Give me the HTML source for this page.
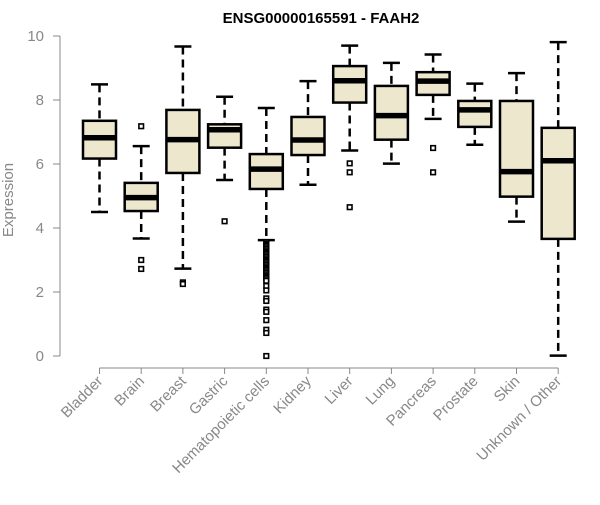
<!DOCTYPE html>
<html><head><meta charset="utf-8"><style>
body{margin:0;background:#fff}
svg{font-family:"Liberation Sans",sans-serif}
</style></head><body>
<svg id="chart" width="600" height="500">
<text x="321" y="23" text-anchor="middle" font-weight="bold" font-size="15">ENSG00000165591 - FAAH2</text>
<text transform="translate(13,200) rotate(-90)" text-anchor="middle" font-size="15" fill="#888">Expression</text>
<g id="axes"></g><g id="boxes"></g>
</svg>
<script>
const categories=["Bladder","Brain","Breast","Gastric","Hematopoietic cells","Kidney","Liver","Lung","Pancreas","Prostate","Skin","Unknown / Other"];
const whiskerLow=[4.5,3.67,2.73,5.5,3.62,5.35,6.42,6.01,7.41,6.6,4.2,0.01];
const q1=[6.17,4.53,5.72,6.51,5.22,6.28,7.92,6.76,8.16,7.16,4.98,3.66];
const medians=[6.82,4.95,6.76,7.07,5.84,6.75,8.6,7.51,8.59,7.69,5.76,6.1];
const q3=[7.35,5.41,7.69,7.24,6.31,7.47,9.06,8.44,8.87,7.97,7.97,7.13];
const whiskerHigh=[8.49,6.56,9.67,8.1,7.75,8.59,9.7,9.16,9.42,8.51,8.84,9.81];
const outliers=[[],[7.18,3.0,2.72],[2.3,2.25],[4.21],
[3.55,3.5,3.45,3.4,3.35,3.3,3.25,3.2,3.15,3.1,3.05,3.0,2.95,2.9,2.85,2.8,2.75,2.7,2.65,2.6,2.55,2.5,2.45,2.4,2.35,2.19,2.05,1.8,1.72,1.45,1.38,1.12,0.82,0.72,0],
[],[6.02,5.74,4.65],[],[6.5,5.74],[],[],[]];
const yTicks=[0,2,4,6,8,10];
const NS="http://www.w3.org/2000/svg";
const y=v=>356-v*32;
const x=i=>99.5+i*41.7;
function mk(p,t,a){const e=document.createElementNS(NS,t);for(const k in a)e.setAttribute(k,a[k]);p.appendChild(e);return e;}
const ax=document.getElementById('axes'),bx=document.getElementById('boxes');
const yl=mk(ax,'line',{x1:60,x2:60,y1:y(10),y2:y(0),stroke:'#888'});


yTicks.forEach(t=>{
 const tk=mk(ax,'line',{x1:53,x2:60,y1:y(t),y2:y(t),stroke:'#888'});
 
 
 const tl=mk(ax,'text',{x:44,y:y(t)+5,'text-anchor':'end','font-size':15,fill:'#888'});
 tl.textContent=t;
 
 
});
const xl=mk(ax,'line',{x1:x(0),x2:x(categories.length-1),y1:368,y2:368,stroke:'#888'});


categories.forEach((c,i)=>{
 const cx=x(i),w=16.5;
 const tk=mk(ax,'line',{x1:cx,x2:cx,y1:368,y2:374,stroke:'#888'});
 
 
 const tl=mk(ax,'text',{transform:`translate(${cx+4},${382}) rotate(-45)`,'text-anchor':'end','font-size':15,fill:'#888'});
 tl.textContent=c;
 
 
 const g=mk(bx,'g',{});
 
 
 mk(g,'line',{x1:cx,x2:cx,y1:y(whiskerHigh[i]),y2:y(q3[i]),stroke:'#000','stroke-width':2.5,'stroke-dasharray':'8,5'});
 mk(g,'line',{x1:cx,x2:cx,y1:y(q1[i]),y2:y(whiskerLow[i]),stroke:'#000','stroke-width':2.5,'stroke-dasharray':'8,5'});
 mk(g,'line',{x1:cx-8.5,x2:cx+8.5,y1:y(whiskerHigh[i]),y2:y(whiskerHigh[i]),stroke:'#000','stroke-width':2.5});
 mk(g,'line',{x1:cx-8.5,x2:cx+8.5,y1:y(whiskerLow[i]),y2:y(whiskerLow[i]),stroke:'#000','stroke-width':2.5});
 mk(g,'rect',{x:cx-w,y:y(q3[i]),width:2*w,height:y(q1[i])-y(q3[i]),fill:'#ede7cd',stroke:'#000','stroke-width':2.5});
 mk(g,'line',{x1:cx-w,x2:cx+w,y1:y(medians[i]),y2:y(medians[i]),stroke:'#000','stroke-width':5.5});
 outliers[i].forEach(o=>{
  const p=mk(g,'rect',{x:cx-2.3,y:y(o)-2.3,width:4.6,height:4.6,fill:'#fff',stroke:'#000','stroke-width':1.6});
  
  
 });
});
</script>
</body></html>
